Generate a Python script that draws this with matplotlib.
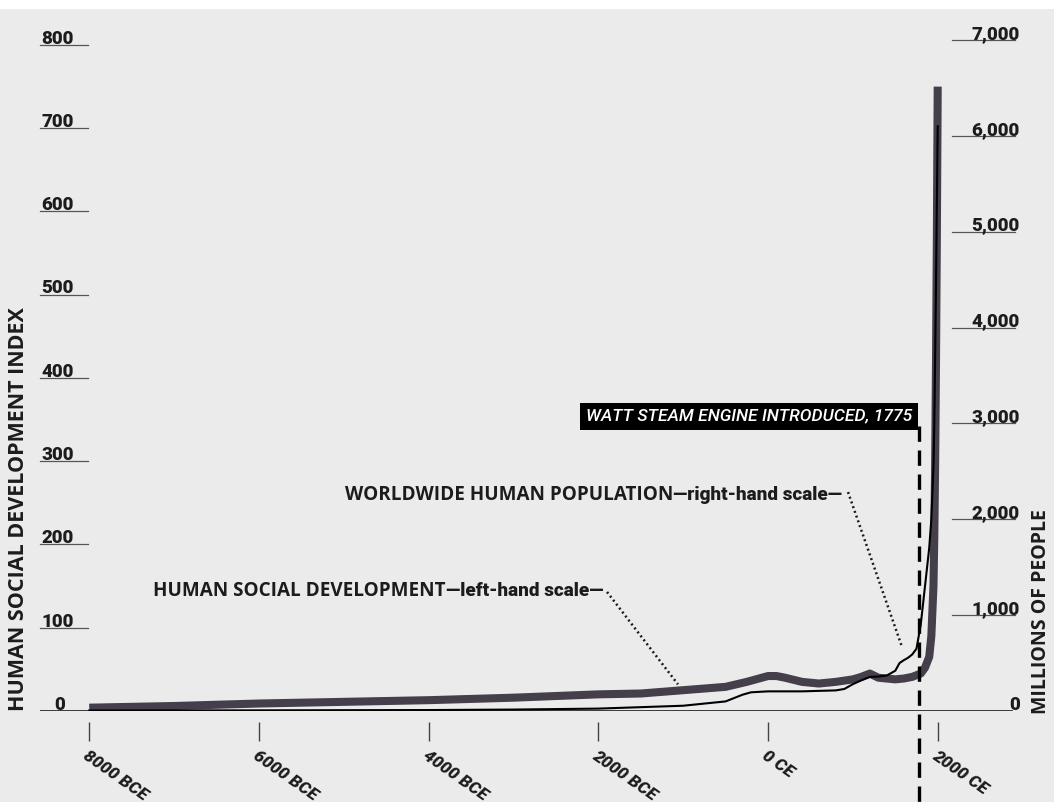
import matplotlib.pyplot as plt
from matplotlib.patches import Rectangle
from matplotlib.transforms import blended_transform_factory

# human social development index (left-hand scale)
dev_years = [-8000, -7000, -6000, -5000, -4000, -3000, -2000, -1500, -1000, -500, -250,
             0, 100, 200, 400, 600, 800, 1000, 1100, 1200, 1300, 1400, 1500, 1600,
             1700, 1750, 1800, 1850, 1900, 1925, 1950, 1960, 1970, 1980, 1990, 2000]
dev_index = [4, 6, 9, 11, 13, 16, 20, 21, 25, 29, 35,
             42, 42, 40, 35, 33, 35, 38, 41, 45, 40, 39, 38, 39,
             41, 43, 45, 52, 65, 90, 150, 210, 300, 420, 570, 750]

# worldwide population, millions (right-hand scale)
pop_years = [-8000, -6000, -4000, -3000, -2000, -1500, -1000, -500, -300, -200,
             0, 200, 400, 600, 800, 900, 1000, 1100, 1200, 1300, 1400, 1500,
             1550, 1600, 1650, 1700, 1750, 1800, 1850, 1900, 1925, 1950, 1960,
             1970, 1980, 1990, 2000]
pop_millions = [5, 7, 10, 15, 25, 40, 55, 100, 170, 195,
                205, 205, 205, 210, 215, 230, 280, 320, 355, 360, 370, 420,
                500, 530, 555, 590, 650, 900, 1300, 1700, 2000, 2550, 3000,
                3700, 4450, 5300, 6100]

x_ticks = [-8000, -6000, -4000, -2000, 0, 2000]
x_labels = ['8000 BCE', '6000 BCE', '4000 BCE', '2000 BCE', '0 CE', '2000 CE']
left_ticks = [0, 100, 200, 300, 400, 500, 600, 700, 800]
right_ticks = [0, 1000, 2000, 3000, 4000, 5000, 6000, 7000]
right_labels = ['0', '1,000', '2,000', '3,000', '4,000', '5,000', '6,000', '7,000']
watt_year = 1775

BG = '#ebebeb'
INK = '#1c1c1c'
NARROW = ['Roboto', 'DejaVu Sans']
SANS = ['Open Sans', 'DejaVu Sans']

W, H = 1054, 802
fig = plt.figure(figsize=(W / 100, H / 100), dpi=100, facecolor=BG)
fig.add_artist(Rectangle((0, 1 - 9 / H), 1, 9 / H, transform=fig.transFigure,
                         facecolor='white', edgecolor='none'))

ax = fig.add_axes([40 / W, (H - 711) / H, 975 / W, 671 / H])
ax.set_facecolor('none')
ax2 = ax.twinx()

ax.set_xlim(-8580, 2911)
ax.set_ylim(0, 806)
ax2.set_ylim(0, 7000)

for a in (ax, ax2):
    for s in a.spines.values():
        s.set_visible(False)
    a.set_yticks([])

# data
ax.plot(dev_years, dev_index, color='#443f4a', lw=5.8, solid_capstyle='butt')
ax2.plot(pop_years, pop_millions, color='black', lw=1.5)

# baseline and x ticks
ax.axhline(0, xmin=0, xmax=0.997, color=INK, lw=1.2)
ax.spines['bottom'].set_position(('outward', 8))
ax.set_xticks(x_ticks)
ax.set_xticklabels(x_labels)
ax.tick_params(axis='x', length=14, width=1, color='#444444', pad=5)
for lab in ax.get_xticklabels():
    lab.set_rotation(-35)
    lab.set_ha('left')
    lab.set_va('top')
    lab.set_rotation_mode('anchor')
    lab.set_family(NARROW)
    lab.set_fontweight('heavy')
    lab.set_fontstyle('italic')
    lab.set_fontsize(12.5)
    lab.set_color(INK)

# left scale labels
tl = blended_transform_factory(ax.transAxes, ax.transData)
for v in left_ticks:
    if v > 0:
        ax.plot([0, 48 / 975], [v, v], transform=tl, color='#555555', lw=0.9, clip_on=False)
        ax.text(1 / 975, v + 1.5, str(v), transform=tl, ha='left', va='baseline',
                fontsize=13.5, fontweight='heavy', family=NARROW, color=INK)
    else:
        ax.text(20 / 975, v + 1.5, '0', transform=tl, ha='center', va='baseline',
                fontsize=13.5, fontweight='heavy', family=NARROW, color=INK)

# right scale labels
tr = blended_transform_factory(ax2.transAxes, ax2.transData)
for v, s in zip(right_ticks, right_labels):
    if v > 0:
        ax2.plot([912 / 975, 975 / 975], [v, v], transform=tr, color='#555555', lw=0.9,
                 clip_on=False)
    ax2.text(980 / 975, v + 12, s, transform=tr, ha='right', va='baseline',
             fontsize=13.5, fontweight='heavy', family=NARROW, color=INK)

# axis titles
fig.text(19 / W, 1 - 509 / H, 'HUMAN SOCIAL DEVELOPMENT INDEX', rotation=90,
         ha='center', va='center', fontsize=15.5, fontweight='bold', family=SANS, color=INK)
fig.text(1041 / W, 1 - 612 / H, 'MILLIONS OF PEOPLE', rotation=90,
         ha='center', va='center', fontsize=14, fontweight='bold', family=SANS, color=INK)

# Watt steam engine marker
ax.plot([watt_year, watt_year], [342, -112], color='black', lw=2.4,
        ls=(0, (4.6, 2.6)), clip_on=False)
ax.text(1697, 354, 'WATT STEAM ENGINE INTRODUCED, 1775', ha='right', va='center',
        fontsize=12.6, fontstyle='italic', fontweight='medium', family=NARROW,
        color='white',
        bbox=dict(boxstyle='square,pad=0.33', facecolor='black', edgecolor='none'))

# series labels with dotted leaders
t1 = ax.text(-7248, 138, 'HUMAN SOCIAL DEVELOPMENT', ha='left', va='baseline',
             fontsize=13.6, fontweight='bold', family=SANS, color=INK)
t2 = ax.text(-4985, 254, 'WORLDWIDE HUMAN POPULATION', ha='left', va='baseline',
             fontsize=13.6, fontweight='bold', family=SANS, color=INK)
fig.canvas.draw()
inv = ax.transData.inverted()
for t, s, y in [(t1, '\u2014left-hand scale\u2014', 138), (t2, '\u2014right-hand scale\u2014', 254)]:
    x1 = inv.transform(t.get_window_extent().get_points())[1, 0]
    ax.text(x1, y, s, ha='left', va='baseline', fontsize=13.6, fontweight='heavy',
            family=NARROW, color=INK)

ax.plot([-1897, -1061], [143, 32], color=INK, lw=1.8, ls=(0, (0.8, 1.2)))
ax.plot([943, 1579], [263, 77], color=INK, lw=1.8, ls=(0, (0.8, 1.2)))

fig.savefig('out.png', dpi=100, facecolor=BG)
